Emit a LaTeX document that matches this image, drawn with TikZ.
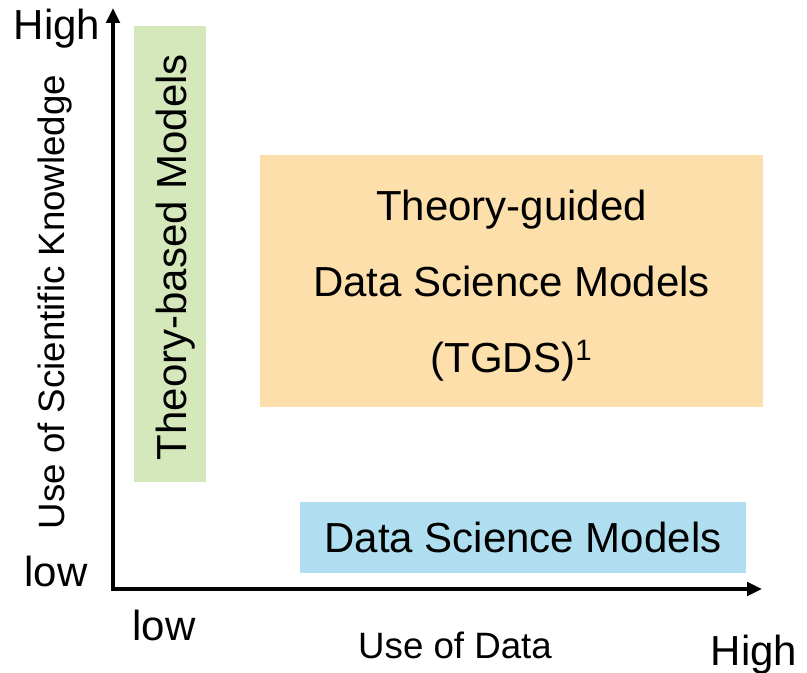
\documentclass[tikz,border=0pt]{standalone}
\usepackage{fontspec}
\setmainfont{Liberation Sans}
\usetikzlibrary{arrows.meta}
\definecolor{theorygreen}{RGB}{213,232,187}
\definecolor{tgdsorange}{RGB}{253,223,171}
\definecolor{dsblue}{RGB}{175,222,240}
\tikzset{
  big/.style={font=\fontsize{31.5pt}{57pt}\selectfont},
  axislabel/.style={font=\fontsize{27.5pt}{33pt}\selectfont},
  region/.style={rectangle, inner sep=0pt, draw=none},
  axisline/.style={line width=3pt, black, miter limit=10,
    {Triangle[length=11.25pt,width=10pt]}-{Triangle[length=11.25pt,width=10pt]}},
}
\begin{document}
\begin{tikzpicture}[x=0.75pt,y=-0.75pt]
\useasboundingbox (0,0) rectangle (807,673);

% model regions
\node[region, fill=theorygreen, minimum width=72*0.75pt, minimum height=456*0.75pt]
  (tbm) at (170,254) {};
\node[big, rotate=90, anchor=base] (tbmtext) at (186,257) {Theory-based Models};

\node[region, fill=tgdsorange, minimum width=503*0.75pt, minimum height=252*0.75pt,
  big, align=center, text depth=0pt] (tgds) at (511.5,281)
  {Theory-guided\\Data Science Models\\(TGDS)\textsuperscript{1}};

\node[region, fill=dsblue, minimum width=446*0.75pt, minimum height=71*0.75pt,
  big, text height=22.5pt, text depth=0pt] (dsm) at (523,537.5) {Data Science Models};

% axes
\coordinate (origin) at (113,589);
\coordinate (ytip) at (113,8);
\coordinate (xtip) at (762,589);
\draw[axisline] (ytip) -- (origin) -- (xtip);

% axis labels
\node[big, anchor=base] (yhigh) at (57,40) {High};
\node[big, anchor=base] (ylow) at (56,586) {low};
\node[big, anchor=base] (xlow) at (164,640) {low};
\node[big, anchor=base] (xhigh) at (754,665) {High};
\node[axislabel, anchor=base] (xlabel) at (455,658) {Use of Data};
\node[axislabel, anchor=base, rotate=90] (ylabel) at (64,302) {Use of Scientific Knowledge};
\end{tikzpicture}
\end{document}
